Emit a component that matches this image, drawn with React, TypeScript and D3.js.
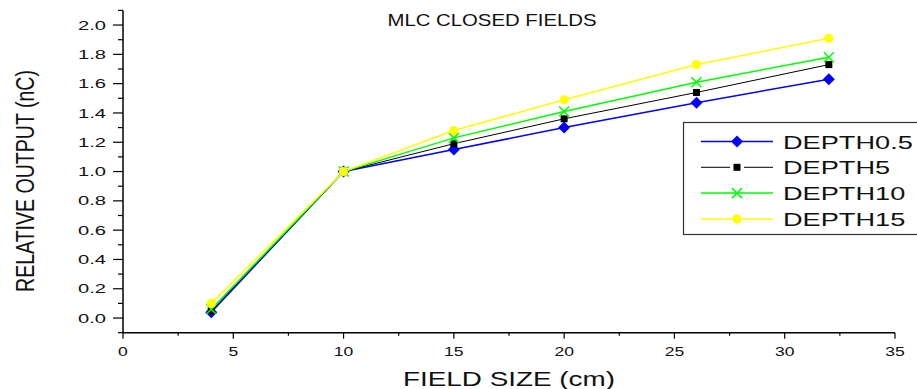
import React from "react";
import * as d3 from "d3";

const fieldSize = [4, 10, 15, 20, 26, 32];
const depth05 = [0.04, 1.0, 1.15, 1.3, 1.47, 1.63];
const depth5 = [0.05, 1.0, 1.19, 1.36, 1.54, 1.73];
const depth10 = [0.06, 1.0, 1.23, 1.41, 1.61, 1.78];
const depth15 = [0.1, 1.0, 1.28, 1.49, 1.73, 1.91];
const seriesNames = ["DEPTH0.5", "DEPTH5", "DEPTH10", "DEPTH15"];
const seriesColors = ["#0000ff", "#000000", "#00ff00", "#ffff00"];
const xTickValues = [0, 5, 10, 15, 20, 25, 30, 35];
const xMinorValues = [2.5, 7.5, 12.5, 17.5, 22.5, 27.5, 32.5];
const yTickValues = [0, 0.2, 0.4, 0.6, 0.8, 1.0, 1.2, 1.4, 1.6, 1.8, 2.0];
const yMinorValues = [-0.1, 0.1, 0.3, 0.5, 0.7, 0.9, 1.1, 1.3, 1.5, 1.7, 1.9, 2.1];
const titleText = "MLC CLOSED FIELDS";
const xTitle = "FIELD SIZE (cm)";
const yTitle = "RELATIVE OUTPUT (nC)";

const W = 917;
const H = 389;
const FONT = "Arial, 'Liberation Sans', sans-serif";

function Marker({ kind, cx, cy, color }: { kind: number; cx: number; cy: number; color: string }) {
  if (kind === 0) {
    const r = 6;
    return (
      <path
        d={`M${cx},${cy - r}L${cx + r},${cy}L${cx},${cy + r}L${cx - r},${cy}Z`}
        fill={color}
      />
    );
  }
  if (kind === 1) {
    const s = 7;
    return <rect x={cx - s / 2} y={cy - s / 2} width={s} height={s} fill={color} />;
  }
  if (kind === 2) {
    const r = 5;
    return (
      <path
        d={`M${cx - r},${cy - r}L${cx + r},${cy + r}M${cx - r},${cy + r}L${cx + r},${cy - r}`}
        stroke={color}
        strokeWidth={1.5}
        fill="none"
      />
    );
  }
  return <circle cx={cx} cy={cy} r={4.6} fill={color} />;
}

export default function App() {
  const x = d3.scaleLinear().domain([0, 35]).range([123, 895]);
  const y = d3.scaleLinear().domain([-0.1, 2.1]).range([332.7, 10.4]);
  const allSeries = [depth05, depth5, depth10, depth15];
  const line = d3
    .line<number>()
    .x((_, i) => x(fieldSize[i]))
    .y((v) => y(v));
  const lineWidths = [1.5, 1, 1.5, 1.5];

  const legendRow = (i: number) => 141.5 + i * 25.8;

  return (
    <svg
      width={W}
      height={H}
      style={{ position: "absolute", left: 0, top: 0, background: "#fff" }}
      fontFamily={FONT}
    >
      <rect x={0} y={0} width={W} height={H} fill="#fff" />
      {/* title */}
      <text
        x={492}
        y={26}
        fontSize={17}
        textAnchor="middle"
        textLength={209}
        lengthAdjust="spacingAndGlyphs"
        fill="#111"
      >
        {titleText}
      </text>

      {/* axes */}
      <line x1={x(0)} x2={x(0)} y1={y(2.1)} y2={y(-0.1)} stroke="#000" strokeWidth={1.5} />
      <line x1={x(0)} x2={x(35)} y1={y(-0.1)} y2={y(-0.1)} stroke="#000" strokeWidth={1.5} />
      {yTickValues.map((v) => (
        <g key={"yt" + v}>
          <line x1={x(0) - 10} x2={x(0)} y1={y(v)} y2={y(v)} stroke="#000" strokeWidth={1.2} />
          <g transform={`translate(106,${y(v) + 4.6}) scale(1.55,1)`}>
            <text fontSize={13} textAnchor="end" fill="#111">
              {d3.format(".1f")(v)}
            </text>
          </g>
        </g>
      ))}
      {yMinorValues.map((v) => (
        <line key={"ym" + v} x1={x(0) - 5} x2={x(0)} y1={y(v)} y2={y(v)} stroke="#000" strokeWidth={1.2} />
      ))}
      {xTickValues.map((v) => (
        <g key={"xt" + v}>
          <line x1={x(v)} x2={x(v)} y1={y(-0.1)} y2={y(-0.1) + 6} stroke="#000" strokeWidth={1.2} />
          <g transform={`translate(${x(v)},${y(-0.1) + 23.5}) scale(1.35,1)`}>
            <text fontSize={13} textAnchor="middle" fill="#111">
              {v}
            </text>
          </g>
        </g>
      ))}
      {xMinorValues.map((v) => (
        <line key={"xm" + v} x1={x(v)} x2={x(v)} y1={y(-0.1)} y2={y(-0.1) + 3} stroke="#000" strokeWidth={1.2} />
      ))}

      {/* axis titles */}
      <text
        x={509}
        y={386}
        fontSize={21}
        textAnchor="middle"
        textLength={212}
        lengthAdjust="spacingAndGlyphs"
        fill="#111"
      >
        {xTitle}
      </text>
      <text
        transform={`translate(34,181) rotate(-90)`}
        fontSize={26}
        textAnchor="middle"
        textLength={222}
        lengthAdjust="spacingAndGlyphs"
        fill="#111"
      >
        {yTitle}
      </text>

      {/* series */}
      {allSeries.map((s, k) => (
        <g key={"s" + k}>
          <path d={line(s) || ""} fill="none" stroke={seriesColors[k]} strokeWidth={lineWidths[k]} />
          {s.map((v, i) => (
            <Marker key={i} kind={k} cx={x(fieldSize[i])} cy={y(v)} color={seriesColors[k]} />
          ))}
        </g>
      ))}

      {/* legend */}
      <rect x={683.5} y={122.5} width={260} height={112} fill="#fff" stroke="#333" strokeWidth={1.2} />
      {seriesNames.map((name, i) => (
        <g key={name}>
          <line
            x1={701}
            x2={773}
            y1={legendRow(i)}
            y2={legendRow(i)}
            stroke={seriesColors[i]}
            strokeWidth={lineWidths[i]}
          />
          {i === 1 ? (
            <rect x={730} y={legendRow(i) - 6} width={14} height={12} fill="#fff" />
          ) : null}
          <Marker kind={i} cx={737} cy={legendRow(i)} color={seriesColors[i]} />
          <g transform={`translate(783,${legendRow(i) + 7}) scale(1.43,1)`}>
            <text fontSize={19} fill="#111">
              {name}
            </text>
          </g>
        </g>
      ))}
    </svg>
  );
}
